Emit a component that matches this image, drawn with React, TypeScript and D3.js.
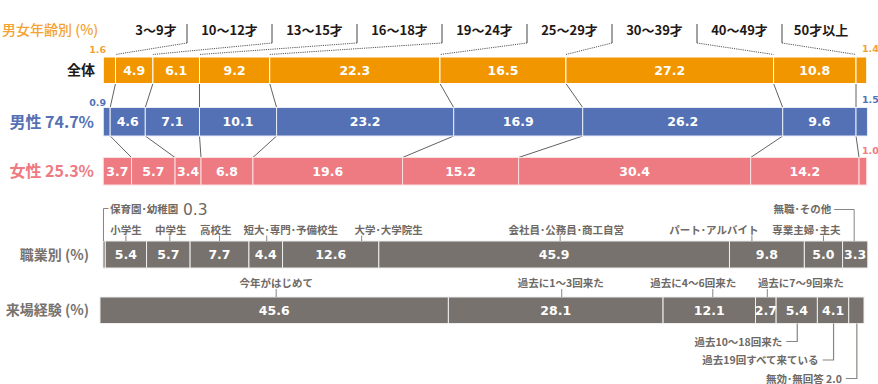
import React from "react";
import * as d3 from "d3";

// ---------- data ----------
const ageGroups = ["3〜9才", "10〜12才", "13〜15才", "16〜18才", "19〜24才", "25〜29才", "30〜39才", "40〜49才", "50才以上"];
const totalValues = [1.6, 4.9, 6.1, 9.2, 22.3, 16.5, 27.2, 10.8, 1.4];
const maleValues = [0.9, 4.6, 7.1, 10.1, 23.2, 16.9, 26.2, 9.6, 1.5];
const femaleValues = [3.7, 5.7, 3.4, 6.8, 19.6, 15.2, 30.4, 14.2, 1.0];
const maleShare = "74.7%";
const femaleShare = "25.3%";

const occupations = ["保育園･幼稚園", "小学生", "中学生", "高校生", "短大･専門･予備校生", "大学･大学院生", "会社員･公務員･商工自営", "パート･アルバイト", "専業主婦･主夫", "無職･その他"];
const occupationValues = [0.3, 5.4, 5.7, 7.7, 4.4, 12.6, 45.9, 9.8, 5.0, 3.3];

const visitCategories = ["今年がはじめて", "過去に1〜3回来た", "過去に4〜6回来た", "過去に7〜9回来た", "過去10〜18回来た", "過去19回すべて来ている", "無効･無回答"];
const visitValues = [45.6, 28.1, 12.1, 2.7, 5.4, 4.1, 2.0];

// ---------- layout (offsets of annotation labels / ticks from segment centres) ----------
const ageLabelDx = [11.5, 0, 0, 0, 0, 0, 0, 0, -3.5];
const occLabelDx = [0, 0, 2.5, -3.7, 25, 58, 12, -53, -17, 0];
const occTickDx = [0, 0, 1.5, 0, 1, 31, 6, -15, 0, 0];
const visitLabelDx = [2, 5, -16, 35];
const visitTickDx = [2, 6, 3.5, 1.5];

const JP = "'Noto Sans CJK JP', 'Noto Sans', sans-serif";
const NUM = "'DejaVu Sans', 'Noto Sans', sans-serif";

const ORANGE = "#F29600";
const ORANGE_T = "#F3A334";
const BLUE = "#5471B5";
const PINK = "#EE7A82";
const GRAY = "#77726D";
const GRAY_T = "#6E6964";

type Seg = { v: number; s: number; e: number; i: number };
const stack = (vals: number[]): Seg[] => {
  let c = 0;
  return vals.map((v, i) => {
    const s = c;
    c += v;
    return { v, s, e: c, i };
  });
};

export default function App() {
  const W = 878, H = 384;
  const xAge = d3.scaleLinear().domain([0, 100]).range([103.3, 866.7]);
  const xOcc = d3.scaleLinear().domain([0, 100]).range([103, 867]);
  const xVis = d3.scaleLinear().domain([0, 100]).range([100, 864]);

  const rows = {
    total: { y: 57, h: 26.5 },
    male: { y: 107.5, h: 28.5 },
    female: { y: 157.5, h: 27.5 },
    occ: { y: 241, h: 27 },
    visit: { y: 297, h: 26.5 },
  };

  const tot = stack(totalValues);
  const mal = stack(maleValues);
  const fem = stack(femaleValues);
  const occ = stack(occupationValues);
  const vis = stack(visitValues);

  const segs = (data: Seg[], x: d3.ScaleLinear<number, number>, row: { y: number; h: number }, fill: string, stroke: string, key: string) => (
    <g key={key}>
      {data.map((d) => (
        <rect key={d.i} x={x(d.s)} y={row.y} width={Math.max(0, x(d.e) - x(d.s))} height={row.h} fill={fill} stroke={stroke} strokeWidth={1} />
      ))}
      {data.filter((d) => d.v >= 2.5).map((d) => (
        <text key={"t" + d.i} x={(x(d.s) + x(d.e)) / 2} y={row.y + row.h / 2 + 4.6} textAnchor="middle" fill="#fff" fontFamily={NUM} fontWeight="bold" fontSize={12.5}>
          {d.v.toFixed(1)}
        </text>
      ))}
    </g>
  );

  // age group leader lines
  const sepScale = d3.scaleLinear().domain([0, 7]).range([187, 782]);
  const seps = d3.range(8).map((i) => sepScale(i));
  const labelCenters = ageGroups.map((_, i) => {
    const l = i === 0 ? seps[0] - 85 : seps[i - 1];
    const r = i === 8 ? seps[7] + 85 : seps[i];
    return (l + r) / 2 + ageLabelDx[i];
  });

  const allBottom = rows.total.y + rows.total.h;
  const maleBottom = rows.male.y + rows.male.h;

  const occTop = rows.occ.y;
  const visTop = rows.visit.y;
  const visBottom = rows.visit.y + rows.visit.h;

  return (
    <svg width={W} height={H} style={{ position: "absolute", left: 0, top: 0, background: "#fff" }}>
      {/* title */}
      <text x={2} y={35} fill={ORANGE_T} fontFamily={JP} fontSize={14} fontWeight={500}>男女年齢別 (%)</text>

      {/* age group labels & leaders */}
      {ageGroups.map((g, i) => (
        <text key={g} x={labelCenters[i]} y={35} textAnchor="middle" fill="#231815" fontFamily={JP} fontSize={13} fontWeight="bold">{g}</text>
      ))}
      {seps.map((sx, i) => (
        <g key={"sep" + i}>
          <line x1={sx} x2={sx} y1={24} y2={43} stroke="#444" strokeWidth={1} />
          <line x1={sx} y1={43} x2={xAge(tot[i].e)} y2={54.5} stroke="#444" strokeWidth={0.9} strokeDasharray="1.2,1" />
        </g>
      ))}

      {/* row labels */}
      <text x={95} y={75} textAnchor="end" fill="#231815" fontFamily={JP} fontSize={14} fontWeight="bold">全体</text>
      <text x={94} y={127.5} textAnchor="end" fill={BLUE} fontFamily={JP} fontSize={16} fontWeight="bold">男性 {maleShare}</text>
      <text x={94} y={177} textAnchor="end" fill={PINK} fontFamily={JP} fontSize={16} fontWeight="bold">女性 {femaleShare}</text>
      <text x={89} y={259.5} textAnchor="end" fill={GRAY} fontFamily={JP} fontSize={14} fontWeight="bold">職業別 (%)</text>
      <text x={89} y={315} textAnchor="end" fill={GRAY} fontFamily={JP} fontSize={14} fontWeight="bold">来場経験 (%)</text>

      {/* connectors between age rows */}
      {d3.range(8).map((i) => (
        <g key={"con" + i}>
          <line x1={xAge(tot[i].e)} y1={allBottom} x2={xAge(mal[i].e)} y2={rows.male.y} stroke="#3a3a3a" strokeWidth={0.8} />
          <line x1={xAge(mal[i].e)} y1={maleBottom} x2={xAge(fem[i].e)} y2={rows.female.y} stroke="#3a3a3a" strokeWidth={0.8} />
        </g>
      ))}

      {/* age bars */}
      {segs(tot, xAge, rows.total, ORANGE, "#fff", "tot")}
      {segs(mal, xAge, rows.male, BLUE, "#e8ecf5", "mal")}
      {segs(fem, xAge, rows.female, PINK, "#fbe0e2", "fem")}

      {/* small outside values */}
      <text x={106} y={53} textAnchor="end" fill={ORANGE_T} fontFamily={NUM} fontWeight="bold" fontSize={9.5}>{totalValues[0].toFixed(1)}</text>
      <text x={862} y={52} fill={ORANGE_T} fontFamily={NUM} fontWeight="bold" fontSize={9.5}>{totalValues[8].toFixed(1)}</text>
      <text x={106} y={106} textAnchor="end" fill={BLUE} fontFamily={NUM} fontWeight="bold" fontSize={9.5}>{maleValues[0].toFixed(1)}</text>
      <text x={862} y={103} fill={BLUE} fontFamily={NUM} fontWeight="bold" fontSize={9.5}>{maleValues[8].toFixed(1)}</text>
      <text x={862} y={154} fill={PINK} fontFamily={NUM} fontWeight="bold" fontSize={9.5}>{femaleValues[8].toFixed(1)}</text>

      {/* occupation bar */}
      {segs(occ, xOcc, rows.occ, GRAY, "#eeeeee", "occ")}
      {occ.slice(1, 9).map((d) => {
        const c = (xOcc(d.s) + xOcc(d.e)) / 2;
        return (
          <g key={"ol" + d.i}>
            <text x={c + occLabelDx[d.i]} y={233.5} textAnchor="middle" fill={GRAY_T} fontFamily={JP} fontSize={10.5} fontWeight="bold">{occupations[d.i]}</text>
            <line x1={c + occTickDx[d.i]} x2={c + occTickDx[d.i]} y1={235.5} y2={occTop} stroke="#8a8580" strokeWidth={1} />
          </g>
        );
      })}
      {(() => {
        const d = occ[0];
        const bx = xOcc(d.s) + 0.5;
        return (
          <g>
            <polyline points={`${bx + 5},208.5 ${bx},208.5 ${bx},${occTop}`} fill="none" stroke="#8a8580" strokeWidth={1} />
            <text x={110} y={213} fill={GRAY_T} fontFamily={JP} fontSize={10.5} fontWeight="bold">{occupations[0]}</text>
            <text x={183} y={214.5} fill={GRAY_T} fontFamily={NUM} fontSize={15.5}>{d.v.toFixed(1)}</text>
          </g>
        );
      })()}
      {(() => {
        const d = occ[9];
        const c = (xOcc(d.s) + xOcc(d.e)) / 2 - 1;
        return (
          <g>
            <polyline points={`${c - 20},209.5 ${c},209.5 ${c},${occTop}`} fill="none" stroke="#8a8580" strokeWidth={1} />
            <text x={c - 23} y={213} textAnchor="end" fill={GRAY_T} fontFamily={JP} fontSize={10.5} fontWeight="bold">{occupations[9]}</text>
          </g>
        );
      })()}

      {/* visit bar */}
      {segs(vis, xVis, rows.visit, GRAY, "#eeeeee", "vis")}
      {vis.slice(0, 4).map((d) => {
        const c = (xVis(d.s) + xVis(d.e)) / 2;
        return (
          <g key={"vl" + d.i}>
            <text x={c + visitLabelDx[d.i]} y={287} textAnchor="middle" fill={GRAY_T} fontFamily={JP} fontSize={10.5} fontWeight="bold">{visitCategories[d.i]}</text>
            <line x1={c + visitTickDx[d.i]} x2={c + visitTickDx[d.i]} y1={289} y2={visTop} stroke="#8a8580" strokeWidth={1} />
          </g>
        );
      })}
      {vis.slice(4).map((d, k) => {
        const c = (xVis(d.s) + xVis(d.e)) / 2 + 0.5;
        const ly = 341.5 + k * 18.5;
        const label = d.i === 6 ? `${visitCategories[d.i]} ${d.v.toFixed(1)}` : visitCategories[d.i];
        return (
          <g key={"vb" + d.i}>
            <polyline points={`${c - 11},${ly} ${c},${ly} ${c},${visBottom}`} fill="none" stroke="#8a8580" strokeWidth={1.2} />
            <text x={c - 15} y={ly + 4} textAnchor="end" fill={GRAY_T} fontFamily={JP} fontSize={10.5} fontWeight="bold">{label}</text>
          </g>
        );
      })}
    </svg>
  );
}
